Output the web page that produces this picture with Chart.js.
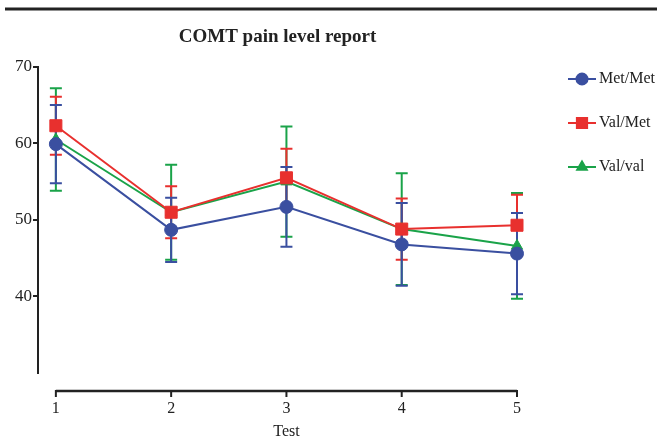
<!DOCTYPE html>
<html>
<head>
<meta charset="utf-8">
<script src="https://cdn.jsdelivr.net/npm/chart.js@4.4.0/dist/chart.umd.min.js"></script>
<style>
    html, body { margin: 0; padding: 0; background: #fff; }
    #wrap { position: relative; width: 657px; height: 439px; }
</style>
</head>
<body>
<div id="wrap"><canvas id="painChart" width="657" height="439"></canvas></div>
<script>
// Chart data
const tests = [1, 2, 3, 4, 5];
const xTicks = [1, 2, 3, 4, 5];
const yTicks = [40, 50, 60, 70];

const seriesNames = ['Met/Met', 'Val/Met', 'Val/val'];
const metMet = [59.9, 48.7, 51.7, 46.8, 45.6];
const metMetErr = [5.1, 4.2, 5.2, 5.4, 5.3];
const valMet = [62.3, 51.0, 55.5, 48.8, 49.3];
const valMetErr = [3.8, 3.4, 3.8, 4.0, 4.0];
const valVal = [60.5, 51.0, 55.0, 48.8, 46.6];
const valValErr = [6.7, 6.2, 7.2, 7.3, 6.9];

const colors = ['#3A4FA0', '#E8302E', '#1AA349'];
const serif = "'Liberation Serif', 'Times New Roman', serif";
const ink = '#222';

function points(values) {
    return tests.map((t, i) => ({ x: t, y: values[i] }));
}

// Error bars drawn through the chart scales
const errorBars = {
    id: 'errorBars',
    beforeDatasetsDraw(chart) {
        const ctx = chart.ctx;
        const xs = chart.scales.x, ys = chart.scales.y;
        for (let d = chart.data.datasets.length - 1; d >= 0; d--) {
            const ds = chart.data.datasets[d];
            ctx.save();
            ctx.strokeStyle = ds.borderColor;
            ctx.lineWidth = 2;
            ds.data.forEach((p, i) => {
                const px = xs.getPixelForValue(p.x);
                const top = ys.getPixelForValue(p.y + ds.errors[i]);
                const bot = ys.getPixelForValue(p.y - ds.errors[i]);
                ctx.beginPath();
                ctx.moveTo(px, top); ctx.lineTo(px, bot);
                ctx.moveTo(px - 6, top); ctx.lineTo(px + 6, top);
                ctx.moveTo(px - 6, bot); ctx.lineTo(px + 6, bot);
                ctx.stroke();
            });
            ctx.restore();
        }
    }
};

// Detached x axis, title rule and legend
const decorations = {
    id: 'decorations',
    afterDraw(chart) {
        const ctx = chart.ctx;
        const xs = chart.scales.x;
        ctx.save();

        // top rule
        ctx.strokeStyle = ink;
        ctx.lineWidth = 3;
        ctx.beginPath();
        ctx.moveTo(5, 9); ctx.lineTo(657, 9);
        ctx.stroke();

        // x axis
        const y0 = 391;
        ctx.lineWidth = 2.5;
        ctx.beginPath();
        ctx.moveTo(xs.getPixelForValue(xTicks[0]), y0);
        ctx.lineTo(xs.getPixelForValue(xTicks[xTicks.length - 1]), y0);
        ctx.stroke();
        ctx.lineWidth = 2;
        ctx.fillStyle = ink;
        ctx.font = '16px ' + serif;
        ctx.textAlign = 'center';
        ctx.textBaseline = 'middle';
        xTicks.forEach(v => {
            const px = xs.getPixelForValue(v);
            ctx.beginPath();
            ctx.moveTo(px, y0 - 1); ctx.lineTo(px, y0 + 6);
            ctx.stroke();
            ctx.fillText(String(v), px, y0 + 18);
        });
        ctx.fillText('Test', xs.getPixelForValue(3), 432);

        // legend
        chart.data.datasets.forEach((ds, i) => {
            const ly = 79 + i * 44;
            ctx.strokeStyle = ds.borderColor;
            ctx.lineWidth = 2;
            ctx.beginPath();
            ctx.moveTo(568, ly); ctx.lineTo(596, ly);
            ctx.stroke();
            ctx.fillStyle = ds.borderColor;
            Chart.helpers.drawPoint(ctx, {
                pointStyle: ds.pointStyle,
                radius: ds.pointRadius * 0.85,
                rotation: 0,
                borderWidth: 1
            }, 582, ly);
            ctx.fillStyle = ink;
            ctx.textAlign = 'left';
            ctx.fillText(ds.label, 599, ly);
        });
        ctx.restore();
    }
};

function makeDataset(i, values, errs, style, radius) {
    return {
        label: seriesNames[i],
        data: points(values),
        errors: errs,
        borderColor: colors[i],
        backgroundColor: colors[i],
        pointBackgroundColor: colors[i],
        pointBorderColor: colors[i],
        pointStyle: style,
        pointRadius: radius,
        pointBorderWidth: 1,
        borderWidth: 2,
        tension: 0,
        fill: false,
        clip: false
    };
}

new Chart(document.getElementById('painChart').getContext('2d'), {
    type: 'line',
    data: {
        datasets: [
            makeDataset(0, metMet, metMetErr, 'circle', 6.5),
            makeDataset(1, valMet, valMetErr, 'rect', 8.5),
            makeDataset(2, valVal, valValErr, 'triangle', 6.5)
        ]
    },
    options: {
        responsive: false,
        animation: false,
        devicePixelRatio: 1,
        layout: {
            padding: { top: 0, left: 14, right: 140, bottom: 66 }
        },
        plugins: {
            legend: { display: false },
            tooltip: { enabled: false },
            title: {
                display: true,
                fullSize: false,
                text: 'COMT pain level report',
                color: ink,
                font: { family: serif, size: 19, weight: 'bold', lineHeight: 1.2 },
                padding: { top: 26, bottom: 18 }
            }
        },
        scales: {
            x: {
                type: 'linear',
                min: 0.845,
                max: 5,
                display: false
            },
            y: {
                min: 30,
                max: 70,
                afterBuildTicks: axis => {
                    axis.ticks = yTicks.map(v => ({ value: v }));
                },
                border: { display: true, color: ink, width: 2 },
                grid: {
                    drawOnChartArea: false,
                    drawTicks: true,
                    tickLength: 5,
                    color: ink,
                    lineWidth: 2
                },
                ticks: {
                    padding: 1,
                    color: ink,
                    font: { family: serif, size: 17 }
                }
            }
        }
    },
    plugins: [errorBars, decorations]
});
</script>
</body>
</html>
